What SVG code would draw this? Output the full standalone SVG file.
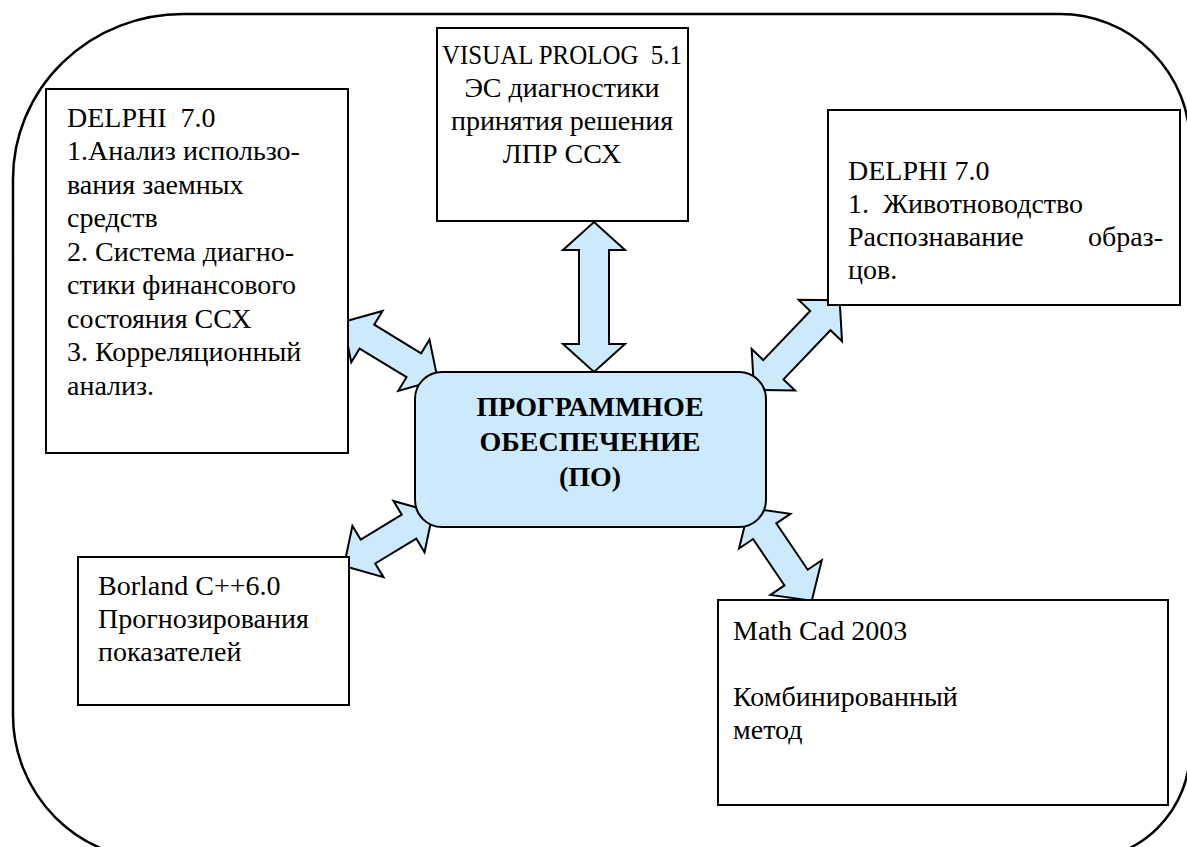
<svg xmlns="http://www.w3.org/2000/svg" width="1187" height="847" viewBox="0 0 1187 847">
<defs>
<style>
.box{fill:#fff;stroke:#000;stroke-width:2}
.arr{fill:#cdeafd;stroke:#000;stroke-width:2;stroke-linejoin:miter}
.t{font-family:"Liberation Serif","Times New Roman",serif;font-size:28px;fill:#000;white-space:pre}
.c{text-anchor:middle}
.b{font-weight:bold}
</style>
</defs>
<rect width="1187" height="847" fill="#fff"/>
<path id="frame" d="M183,14 H1060 A130,130 0 0 1 1190,144 V750 A110,110 0 0 1 1080,860 H158 A145,145 0 0 1 13,715 V179 A170,165 0 0 1 183,14 Z" fill="none" stroke="#000" stroke-width="2.5"/>
<g id="connectors">
<polygon class="arr" transform="translate(594,222) rotate(90)" points="0,0 28,-31 28,-15 122,-15 122,-31 150,0 122,31 122,15 28,15 28,31"/>
<polygon class="arr" transform="translate(343,322) rotate(31.4)" points="0,0 28,-30 28,-14 83,-14 83,-30 111,0 83,30 83,14 28,14 28,30"/>
<polygon class="arr" transform="translate(754,390) rotate(-46.3)" points="0,0 28,-30 28,-14 96,-14 96,-30 124,0 96,30 96,14 28,14 28,30"/>
<polygon class="arr" transform="translate(749,508) rotate(55.9)" points="0,0 28,-31 28,-14 84,-14 84,-31 112,0 84,31 84,14 28,14 28,31"/>
<polygon class="arr" transform="translate(344,566) rotate(-31.2)" points="0,0 28,-30 28,-14 76,-14 76,-30 104,0 76,30 76,14 28,14 28,30"/>
</g>
<g id="delphi-left">
<rect class="box" x="46" y="89" width="302" height="364"/>
<text class="t" x="67" y="127">DELPHI  7.0</text>
<text class="t" x="67" y="160">1.Анализ использо-</text>
<text class="t" x="67" y="194">вания заемных</text>
<text class="t" x="67" y="227">средств</text>
<text class="t" x="67" y="261">2. Система диагно-</text>
<text class="t" x="67" y="294">стики финансового</text>
<text class="t" x="67" y="328">состояния ССХ</text>
<text class="t" x="67" y="361">3. Корреляционный</text>
<text class="t" x="67" y="395">анализ.</text>
</g>
<g id="visual-prolog">
<rect class="box" x="437" y="28" width="251" height="193"/>
<text class="t c" x="562" y="64" textLength="240" lengthAdjust="spacingAndGlyphs">VISUAL PROLOG  5.1</text>
<text class="t c" x="562" y="97">ЭС диагностики</text>
<text class="t c" x="562" y="130">принятия решения</text>
<text class="t c" x="562" y="163">ЛПР ССХ</text>
</g>
<g id="delphi-right">
<rect class="box" x="828" y="110" width="352" height="195"/>
<text class="t" x="848" y="180">DELPHI 7.0</text>
<text class="t" x="848" y="213">1.  Животноводство</text>
<text class="t" x="848" y="246">Распознавание</text>
<text class="t" x="1163" y="246" text-anchor="end">образ-</text>
<text class="t" x="848" y="279">цов.</text>
</g>
<g id="borland">
<rect class="box" x="78" y="557" width="271" height="148"/>
<text class="t" x="98" y="595">Borland C++6.0</text>
<text class="t" x="98" y="628">Прогнозирования</text>
<text class="t" x="98" y="661">показателей</text>
</g>
<g id="mathcad">
<rect class="box" x="718" y="600" width="450" height="205"/>
<text class="t" x="733" y="640">Math Cad 2003</text>
<text class="t" x="733" y="706">Комбинированный</text>
<text class="t" x="733" y="739">метод</text>
</g>
<g id="software">
<rect x="415" y="372" width="351" height="155" rx="27" ry="27" fill="#cdeafd" stroke="#000" stroke-width="2"/>
<text class="t c b" x="590" y="416">ПРОГРАММНОЕ</text>
<text class="t c b" x="590" y="451">ОБЕСПЕЧЕНИЕ</text>
<text class="t c b" x="590" y="486">(ПО)</text>
</g>
</svg>
